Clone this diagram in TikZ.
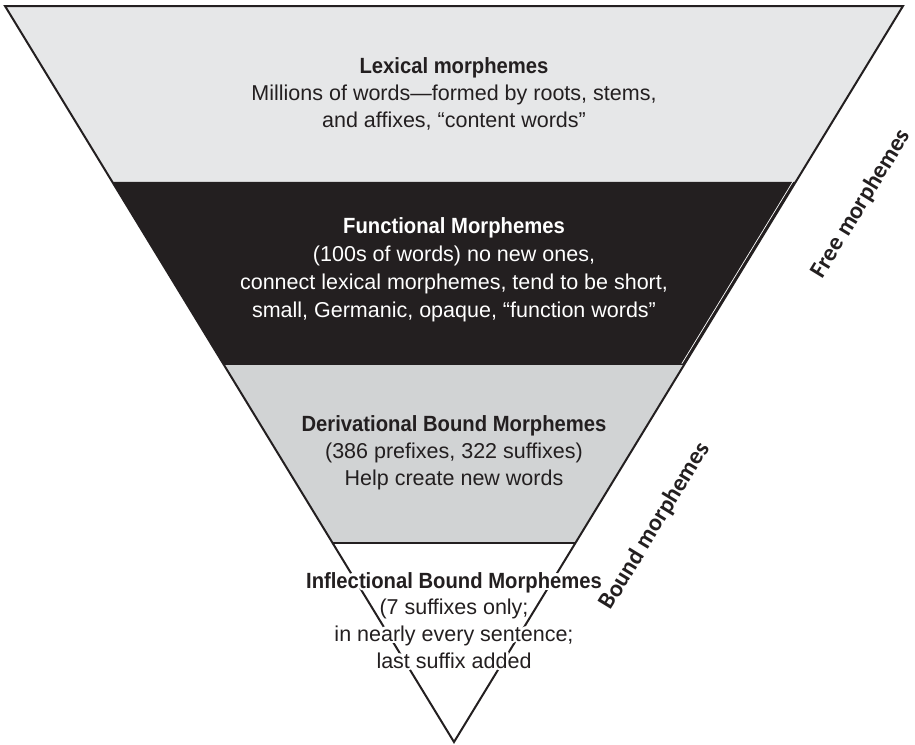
\documentclass[tikz,border=0pt]{standalone}
\usepackage{fontspec}
\setmainfont{Liberation Sans}
\newfontfamily\hdfont{Liberation Sans}[FakeStretch=0.92]
\newfontfamily\lblfont{Carlito}
\usepackage[copies]{contour}
\contourlength{2.5pt}
\usetikzlibrary{calc}
\definecolor{ink}{HTML}{231F20}
\definecolor{bandA}{HTML}{E6E7E8}
\definecolor{bandC}{HTML}{D1D3D4}
\begin{document}
\begin{tikzpicture}[x=1pt,y=-1pt,
  body/.style={font=\fontsize{21.5}{27}\selectfont, text=ink, inner sep=0pt, anchor=base},
  head/.style={body, font=\hdfont\bfseries\fontsize{22}{27}\selectfont},
  inv/.style={text=white},
  edge/.style={draw=ink, line width=2pt},
  sidelbl/.style={font=\lblfont\bfseries\fontsize{24}{28}\selectfont, text=ink, rotate=58.6, inner sep=0pt}]
\useasboundingbox (0,0) rectangle (915,744);
% triangle corners
\coordinate (A) at (5,6);
\coordinate (B) at (903,6);
\coordinate (C) at (454,742);
% band boundaries
\coordinate (L1) at ($(A)!0.2391!(C)$);
\coordinate (R1) at ($(B)!0.2391!(C)$);
\coordinate (L2) at ($(A)!0.4878!(C)$);
\coordinate (R2) at ($(B)!0.4878!(C)$);
\coordinate (L3) at ($(A)!0.7296!(C)$);
\coordinate (R3) at ($(B)!0.7296!(C)$);
% fills
\fill[bandA] (A) -- (B) -- (R1) -- (L1) -- cycle;
\fill[ink] (L1) -- (R1) -- (R2) -- (L2) -- cycle;
\fill[bandC] (L2) -- (R2) -- (R3) -- (L3) -- cycle;
% thin light seam inside the right edge of the dark band
\draw[white, line width=0.7pt] ($(R1)+(-2.2,-1.3)$) -- ($(R2)+(-2.2,-1.3)$);
% outlines
\draw[edge] (L3) -- (R3);
\draw[edge] (A) -- (B) -- (C) -- cycle;
% Lexical
\node[head] (lexA) at (454,73) {Lexical morphemes};
\node[body] (lexB) at (454,100) {Millions of words—formed by roots, stems,};
\node[body] (lexC) at (454,127) {and affixes, “content words”};
% Functional
\node[head, inv] (funA) at (454,233) {Functional Morphemes};
\node[body, inv] (funB) at (454,261) {(100s of words) no new ones,};
\node[body, inv] (funC) at (454,289) {connect lexical morphemes, tend to be short,};
\node[body, inv] (funD) at (454,317) {small, Germanic, opaque, “function words”};
% Derivational
\node[head] (derA) at (454,431) {Derivational Bound Morphemes};
\node[body] (derB) at (454,458) {(386 prefixes, 322 suffixes)};
\node[body] (derC) at (454,485) {Help create new words};
% Inflectional
\node[head] (infA) at (454,588) {\contour{white}{Inflectional Bound Morphemes}};
\node[body] (infB) at (454,614) {\contour{white}{(7 suffixes only;}};
\node[body] (infC) at (454,641) {\contour{white}{in nearly every sentence;}};
\node[body] (infD) at (454,668) {\contour{white}{last suffix added}};
% side labels
\node[sidelbl] (free) at (861,204) {Free morphemes};
\node[sidelbl] (bound) at (655,526) {Bound morphemes};
\end{tikzpicture}
\end{document}
